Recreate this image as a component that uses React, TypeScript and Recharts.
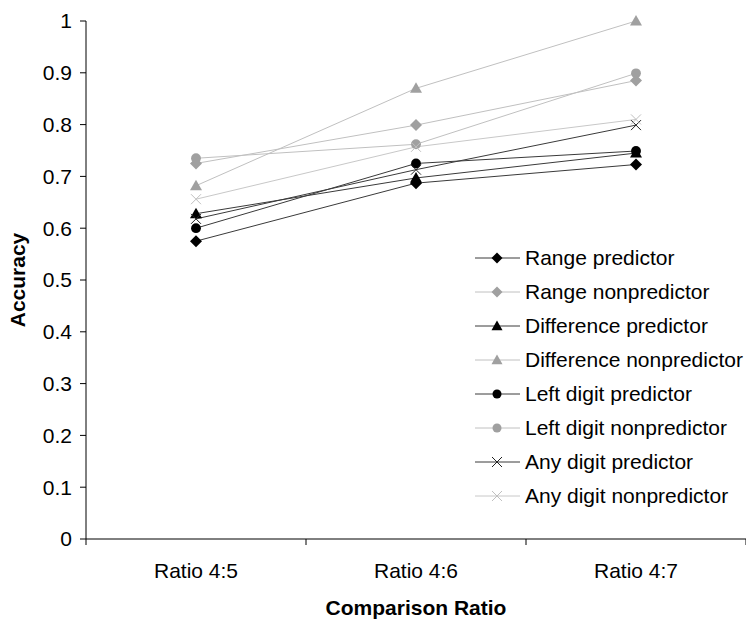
import React from "react";
import { LineChart, Line, XAxis, YAxis } from "recharts";

document.body.style.margin = "0";

const categories = ["Ratio 4:5", "Ratio 4:6", "Ratio 4:7"];
const yTicks = [0, 0.1, 0.2, 0.3, 0.4, 0.5, 0.6, 0.7, 0.8, 0.9, 1];

const rangePredictor = [0.575, 0.687, 0.723];
const rangeNonpredictor = [0.725, 0.799, 0.885];
const differencePredictor = [0.628, 0.697, 0.745];
const differenceNonpredictor = [0.682, 0.87, 1.0];
const leftDigitPredictor = [0.6, 0.725, 0.749];
const leftDigitNonpredictor = [0.735, 0.762, 0.899];
const anyDigitPredictor = [0.618, 0.713, 0.799];
const anyDigitNonpredictor = [0.656, 0.757, 0.81];

type Shape = "diamond" | "triangle" | "circle" | "cross";

const series: { key: string; name: string; values: number[]; shape: Shape; line: string; mark: string }[] = [
  { key: "rp", name: "Range predictor", values: rangePredictor, shape: "diamond", line: "#3a3a3a", mark: "#000" },
  { key: "rn", name: "Range nonpredictor", values: rangeNonpredictor, shape: "diamond", line: "#c0c0c0", mark: "#a0a0a0" },
  { key: "dp", name: "Difference predictor", values: differencePredictor, shape: "triangle", line: "#3a3a3a", mark: "#000" },
  { key: "dn", name: "Difference nonpredictor", values: differenceNonpredictor, shape: "triangle", line: "#c0c0c0", mark: "#a0a0a0" },
  { key: "lp", name: "Left digit predictor", values: leftDigitPredictor, shape: "circle", line: "#3a3a3a", mark: "#000" },
  { key: "ln", name: "Left digit nonpredictor", values: leftDigitNonpredictor, shape: "circle", line: "#c0c0c0", mark: "#a0a0a0" },
  { key: "ap", name: "Any digit predictor", values: anyDigitPredictor, shape: "cross", line: "#3a3a3a", mark: "#222" },
  { key: "an", name: "Any digit nonpredictor", values: anyDigitNonpredictor, shape: "cross", line: "#c8c8c8", mark: "#c0c0c0" },
];

const data = categories.map((c, i) => {
  const row: Record<string, number | string> = { x: i + 0.5, name: c };
  series.forEach((s) => (row[s.key] = s.values[i]));
  return row;
});

function marker(shape: Shape, cx: number, cy: number, color: string, s: number, key?: string) {
  if (shape === "diamond")
    return <path key={key} d={`M${cx},${cy - s}L${cx + s},${cy}L${cx},${cy + s}L${cx - s},${cy}Z`} fill={color} />;
  if (shape === "triangle")
    return <path key={key} d={`M${cx},${cy - s}L${cx + s},${cy + s * 0.75}L${cx - s},${cy + s * 0.75}Z`} fill={color} />;
  if (shape === "circle") return <circle key={key} cx={cx} cy={cy} r={s * 0.82} fill={color} />;
  return (
    <path key={key} d={`M${cx - s},${cy - s}L${cx + s},${cy + s}M${cx - s},${cy + s}L${cx + s},${cy - s}`} stroke={color} strokeWidth={1} fill="none" />
  );
}

const font = "'Liberation Sans', Arial, sans-serif";
const fs = 21;

function LegendBox() {
  return (
    <div style={{ position: "absolute", left: 475, top: 241, fontFamily: font, fontSize: fs, color: "#000" }}>
      {series.map((s) => (
        <div key={s.key} style={{ display: "flex", alignItems: "center", height: 34 }}>
          <svg width={50} height={34} style={{ display: "block" }}>
            <line x1={0} y1={17} x2={45} y2={17} stroke={s.line} strokeWidth={1} />
            {marker(s.shape, 22, 17, s.mark, s.shape === "cross" ? 5 : 5.5)}
          </svg>
          <span style={{ whiteSpace: "nowrap" }}>{s.name}</span>
        </div>
      ))}
    </div>
  );
}

export default function App() {
  return (
    <div style={{ position: "relative", fontFamily: font, width: 746, height: 620, background: "#fff" }}>
      <LineChart width={746} height={620} data={data} margin={{ top: 21, right: 0, left: 0, bottom: 0 }}>
        <YAxis
          type="number"
          domain={[0, 1]}
          ticks={yTicks}
          width={86}
          stroke="#000"
          tick={{ fill: "#000", fontSize: fs }}
          tickSize={6}
          tickMargin={8}
          label={{
            value: "Accuracy",
            angle: -90,
            position: "insideLeft",
            offset: 18,
            style: { textAnchor: "middle", fontWeight: "bold", fontSize: fs, fill: "#000" },
          }}
        />
        <XAxis
          xAxisId={0}
          dataKey="x"
          type="number"
          domain={[0, 3]}
          ticks={[0, 1, 2, 3]}
          height={10}
          stroke="#000"
          tickSize={6}
          tickFormatter={() => ""}
        />
        <XAxis
          xAxisId="lab"
          dataKey="x"
          type="number"
          domain={[0, 3]}
          ticks={[0.5, 1.5, 2.5]}
          height={71}
          axisLine={false}
          tickLine={false}
          tickSize={0}
          tickMargin={14}
          tick={{ fill: "#000", fontSize: fs }}
          tickFormatter={(v: number) => categories[Math.floor(v)]}
          label={{
            value: "Comparison Ratio",
            position: "insideBottom",
            offset: 5,
            style: { fontWeight: "bold", fontSize: fs, fill: "#000" },
          }}
        />
        {series.map((s) => (
          <Line
            key={s.key}
            xAxisId={0}
            dataKey={s.key}
            name={s.name}
            stroke={s.line}
            strokeWidth={1}
            isAnimationActive={false}
            activeDot={false}
            dot={(p: any) => marker(s.shape, p.cx, p.cy, s.mark, s.shape === "cross" ? 5 : 6, `${s.key}-${p.index}`)}
          />
        ))}
      </LineChart>
      <LegendBox />
    </div>
  );
}
